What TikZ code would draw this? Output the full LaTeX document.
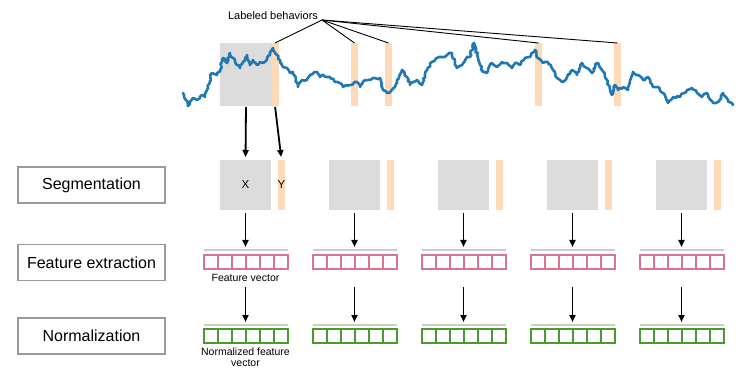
\documentclass[tikz,border=0pt]{standalone}
\usepackage{fontspec}
\setmainfont{Liberation Sans}
\usetikzlibrary{decorations.pathmorphing, arrows.meta}
\definecolor{sig}{HTML}{1F77B4}
\definecolor{segg}{HTML}{DCDCDC}
\definecolor{beh}{HTML}{FFDAB9}
\definecolor{fred}{HTML}{D9738F}
\definecolor{fgreen}{HTML}{4A9A2C}
\definecolor{lbl}{HTML}{9A9A9A}
\definecolor{vline}{HTML}{CCCCCC}
\begin{document}
\begin{tikzpicture}[x=1pt,y=-1pt,
  stagebox/.style={draw=lbl, line width=1.5pt, minimum width=147pt, minimum height=36pt, inner sep=0pt, font=\fontsize{16}{18}\selectfont},
  grayblk/.style={fill=segg, inner sep=0pt, outer sep=0pt},
  behbar/.style={fill=beh, inner sep=0pt, outer sep=0pt, minimum width=7pt},
  vecbox/.style={draw=#1, fill=white, line width=2pt, minimum width=84pt, minimum height=14pt, inner sep=0pt, outer sep=0pt},
  gline/.style={draw=vline, line width=1.5pt},
  arr/.style={-{Triangle[length=7pt,width=6pt]}, line width=1.8pt},
  small/.style={font=\fontsize{10.5}{11.5}\selectfont, inner sep=0pt},
  pointer/.style={line width=0.9pt}
]
\useasboundingbox (0,0) rectangle (747,382);

% top signal panel
\node[grayblk, minimum width=52pt, minimum height=63pt] (tg) at (246,74.5) {};
\foreach \bx [count=\j] in {275,354.5,388.5,538.5,617.5}
  \node[behbar, minimum height=63pt] (b\j) at (\bx,74.5) {};

\pgfmathsetseed{7}
\draw[sig, line width=2.6pt, line join=round, line cap=round,
  decorate, decoration={random steps, segment length=2.2pt, amplitude=1.1pt}]
  plot coordinates {(183,93)(188,106)(193,98)(197,100)(202,95)(205,97)(208,88)(212,73)(217,75)(220,70)(223,58)(227,63)(230,53)(233,58)(237,65)(240,68)(243,62)(247,55)(250,65)(253,60)(257,65)(260,62)(263,63)(267,58)(270,55)(273,48)(277,55)(280,60)(283,67)(287,68)(290,73)(293,72)(298,87)(302,80)(307,80)(310,75)(317,72)(320,77)(323,75)(330,77)(335,82)(340,83)(343,87)(350,85)(357,82)(360,87)(363,82)(368,80)(373,78)(380,78)(383,90)(387,93)(392,90)(397,83)(402,70)(407,77)(410,85)(417,80)(422,85)(427,70)(432,62)(437,58)(442,57)(447,55)(452,53)(457,68)(462,65)(467,57)(470,57)(474,43)(478,58)(483,72)(487,73)(492,63)(497,67)(502,62)(507,63)(512,68)(515,63)(520,65)(525,58)(530,57)(535,50)(538,58)(543,63)(548,62)(553,70)(557,78)(562,82)(567,77)(572,70)(577,75)(582,63)(587,68)(592,73)(597,63)(602,70)(607,80)(612,95)(615,85)(618,90)(623,87)(628,90)(633,72)(638,75)(643,80)(648,77)(653,87)(658,87)(663,93)(668,103)(673,97)(680,97)(687,90)(692,88)(697,93)(702,97)(707,93)(713,103)(718,102)(723,93)(728,100)(733,105)};

\node[small, font=\fontsize{11}{12}\selectfont] (lbh) at (273,16) {Labeled behaviors};
\coordinate (lbp) at (322,20);
\foreach \j in {1,...,5}
  \draw[pointer] (lbp) -- (b\j.north);

% stage labels
\node[stagebox] (segl) at (91.5,185) {Segmentation};
\node[stagebox] (feal) at (91.5,262.5) {Feature extraction};
\node[stagebox] (norl) at (91.5,336) {Normalization};

% columns
\foreach \c [count=\i] in {220,329,438,547,656} {
  \node[grayblk, minimum width=51pt, minimum height=50pt] (sg\i) at (\c+25.5,185) {};
  \node[behbar, minimum height=50pt] (sy\i) at (\c+61.5,185) {};
  \node[vecbox=fred] (fv\i) at (\c+25.5,262) {};
  \node[vecbox=fgreen] (nv\i) at (\c+25.5,336) {};
  \foreach \k in {1,...,5} {
    \draw[fred, line width=2pt] ([xshift=\k*14pt]fv\i.north west) -- ([xshift=\k*14pt]fv\i.south west);
    \draw[fgreen, line width=2pt] ([xshift=\k*14pt]nv\i.north west) -- ([xshift=\k*14pt]nv\i.south west);
  }
  \draw[gline] ([yshift=5pt]fv\i.north west) -- ([yshift=5pt]fv\i.north east);
  \draw[gline] ([yshift=4pt]nv\i.north west) -- ([yshift=4pt]nv\i.north east);
  \draw[arr, shorten <=3pt, shorten >=8pt] (sg\i.south) -- (fv\i.north);
  \draw[arr, shorten <=18pt, shorten >=7pt] (fv\i.south) -- (nv\i.north);
}

\node[small, font=\fontsize{11.5}{12}\selectfont] (xl) at (sg1.center) {X};
\node[small, font=\fontsize{11.5}{12}\selectfont] (yl) at (sy1.center) {Y};
\node[small] (fvl) at (245.5,278) {Feature vector};
\node[small, align=center] (nvl) at (245.5,357) {Normalized feature\\vector};

% arrows from top panel
\draw[arr, shorten <=1pt, shorten >=3pt] (tg.south) -- (sg1.north);
\draw[arr, shorten <=1pt, shorten >=3pt] (b1.south) -- (sy1.north);
\end{tikzpicture}
\end{document}
